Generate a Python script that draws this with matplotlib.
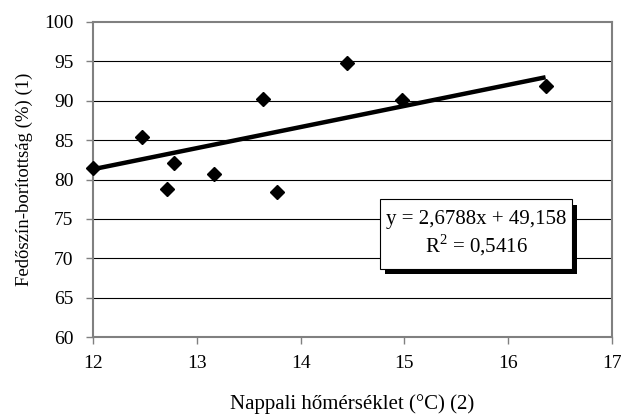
# scatter of daytime temperature vs. cover with linear trend

import numpy as np
import matplotlib.pyplot as plt
from matplotlib.patches import Rectangle

plt.rcParams["font.family"] = ["Liberation Serif", "DejaVu Serif"]
plt.rcParams["mathtext.fontset"] = "custom"
plt.rcParams["mathtext.rm"] = "Liberation Serif"

# --- Data ---
temp = [12.0, 12.47, 12.71, 12.78, 13.17, 13.64, 13.77, 14.45, 14.98, 16.36]
cover = [81.4, 85.4, 78.8, 82.1, 80.7, 90.2, 78.4, 94.8, 90.1, 91.9]
slope, intercept = 2.6788, 49.158
eq_text = "y = 2,6788x + 49,158\nR$^{\\mathrm{2}}$ = 0,5416"
x_ticks = [12, 13, 14, 15, 16, 17]
y_ticks = [60, 65, 70, 75, 80, 85, 90, 95, 100]

fig = plt.figure(figsize=(6.23, 4.18), dpi=100)
ax = fig.add_axes([93/623, 1 - 337/418, (612-93)/623, (337-22)/418])

# gridlines
for yv in y_ticks[1:-1]:
    ax.axhline(yv, color="black", lw=0.8, zorder=1)

# trend line
xl = np.array([min(temp), max(temp)])
ax.plot(xl, slope * xl + intercept, color="black", lw=3.2, solid_capstyle="butt", zorder=3)

ax.plot(temp, cover, linestyle="none", marker="D", ms=7.5, color="black", zorder=4, clip_on=False)

ax.set_xlim(12, 17)
ax.set_ylim(60, 100)
ax.set_xticks(x_ticks)
ax.set_yticks(y_ticks)
ax.tick_params(direction="out", length=5, width=1, color="#808080", labelsize=14)
ax.tick_params(axis="x", pad=8)
ax.tick_params(axis="y", pad=9)

for s in ax.spines.values():
    s.set_color("#808080")
    s.set_linewidth(1.5)

ax.set_xlabel("Nappali hőmérséklet (°C) (2)", fontsize=15, labelpad=16)
ax.set_ylabel("Fedőszín-borítottság (%) (1)", fontsize=13.5, labelpad=8)

# equation box with shadow (data coords)
bx0, bx1, by0, by1 = 14.765, 16.615, 68.65, 77.5
ax.add_patch(Rectangle((bx0 + 0.05, by0 - 0.7), bx1 - bx0, by1 - by0,
                       facecolor="black", edgecolor="none", zorder=5))
ax.add_patch(Rectangle((bx0, by0), bx1 - bx0, by1 - by0,
                       facecolor="white", edgecolor="black", lw=0.8, zorder=6))
ax.text((bx0 + bx1) / 2, (by0 + by1) / 2, eq_text, fontsize=15, ha="center", va="center",
        zorder=7, linespacing=1.15)

plt.savefig("out.png", dpi=100)
